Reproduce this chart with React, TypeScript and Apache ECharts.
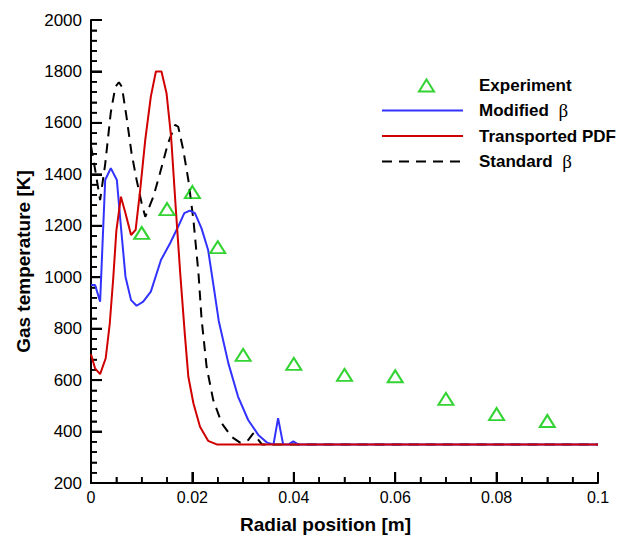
import React, { useEffect, useRef } from "react";
import * as echarts from "echarts";

// Experimental data
const expX = [0.01, 0.015, 0.02, 0.025, 0.03, 0.04, 0.05, 0.06, 0.07, 0.08, 0.09];
const expY = [1172, 1265, 1331, 1117, 698, 663, 620, 615, 527, 468, 441];

// Modified beta
const modX = [0, 0.0008, 0.0018, 0.0028, 0.0039, 0.0051, 0.0059, 0.0068, 0.0079, 0.009, 0.0103, 0.0118, 0.0138, 0.0156, 0.0172, 0.0184, 0.0195, 0.0205, 0.0218, 0.0231, 0.0241, 0.0252, 0.0271, 0.029, 0.031, 0.033, 0.0347, 0.036, 0.0369, 0.0379, 0.039, 0.0399, 0.0408, 0.1];
const modY = [970, 970, 905, 1378, 1424, 1378, 1197, 1002, 911, 889, 905, 944, 1067, 1132, 1197, 1249, 1259, 1249, 1190, 1106, 976, 830, 665, 536, 445, 387, 357, 350, 452, 350, 350, 362, 350, 350];

// Transported PDF
const pdfX = [0, 0.0008, 0.0018, 0.0029, 0.0037, 0.0044, 0.005, 0.0059, 0.0068, 0.0079, 0.0088, 0.0097, 0.0107, 0.0118, 0.0128, 0.0139, 0.0149, 0.0158, 0.0167, 0.0176, 0.0185, 0.0192, 0.0202, 0.0215, 0.0231, 0.0248, 0.1];
const pdfY = [700, 646, 623, 685, 820, 1000, 1180, 1313, 1249, 1164, 1184, 1339, 1534, 1702, 1800, 1800, 1715, 1546, 1274, 1015, 780, 613, 510, 419, 364, 350, 350];

// Standard beta
const stdX = [0, 0.0008, 0.0018, 0.0028, 0.0039, 0.0048, 0.0055, 0.0061, 0.007, 0.008, 0.009, 0.01, 0.0107, 0.0123, 0.0136, 0.0152, 0.0166, 0.0172, 0.0182, 0.0192, 0.0202, 0.0212, 0.0218, 0.0228, 0.0241, 0.0258, 0.0277, 0.0294, 0.031, 0.032, 0.0337, 0.1];
const stdY = [1510, 1420, 1300, 1440, 1640, 1740, 1758, 1740, 1624, 1482, 1378, 1287, 1235, 1313, 1404, 1521, 1592, 1585, 1495, 1378, 1223, 1015, 840, 652, 523, 432, 380, 357, 367, 393, 350, 350];

const seriesNames = ["Experiment", "Modified β", "Transported PDF", "Standard β"];

// Axis settings
const X_MIN = 0, X_MAX = 0.1, X_MAJOR = 0.02, X_MINOR = 0.005;
const Y_MIN = 200, Y_MAX = 2000, Y_MAJOR = 200, Y_MINOR = 40;

const pairs = (xs: number[], ys: number[]) => xs.map((x, i) => [x, ys[i]]);

const FONT = '"Liberation Sans", Arial, sans-serif';

const legendRich = {
  b: { fontFamily: FONT, fontWeight: "bold", fontSize: 17, color: "#000" },
  g: { fontFamily: '"Liberation Serif", serif', fontWeight: "normal", fontSize: 19, color: "#000" },
};
const legendFormatter = (name: string) => {
  if (name.endsWith("β")) {
    return "{b|" + name.slice(0, -2) + "}{g|  β}";
  }
  return "{b|" + name + "}";
};

export default function App() {
  const ref = useRef<HTMLDivElement>(null);
  useEffect(() => {
    if (!ref.current) return;
    const chart = echarts.init(ref.current, undefined, { renderer: "svg" });
    chart.setOption({
      animation: false,
      grid: { left: 91, right: 23, top: 20, bottom: 56 },
      legend: [
        {
          data: [seriesNames[0]],
          orient: "vertical",
          left: 418,
          top: 77,
          padding: 0,
          itemWidth: 15,
          itemHeight: 12,
          symbolKeepAspect: false,
          formatter: legendFormatter,
          textStyle: { padding: [0, 0, 0, 40], rich: legendRich },
        },
        {
          data: seriesNames.slice(1).map((n) => ({ name: n, itemStyle: { opacity: 0 } })),
          orient: "vertical",
          left: 381,
          top: 101,
          padding: 0,
          itemWidth: 81,
          itemHeight: 14,
          itemGap: 7.5,
          formatter: legendFormatter,
          textStyle: { padding: [0, 0, 0, 11], rich: legendRich },
        },
      ],
      xAxis: {
        type: "value",
        min: X_MIN,
        max: X_MAX,
        interval: X_MAJOR,
        name: "Radial position [m]",
        nameLocation: "middle",
        nameGap: 32,
        nameTextStyle: {
          fontFamily: FONT,
          fontWeight: "bold",
          fontSize: 19,
          color: "#000",
          padding: [0, 38, 0, 0],
        },
        axisLine: { show: true, onZero: false, lineStyle: { color: "#000", width: 2 } },
        axisTick: { show: true, inside: true, length: 11, lineStyle: { color: "#000", width: 2 } },
        minorTick: { show: true, splitNumber: 4, length: 6, lineStyle: { color: "#000", width: 1.5 } },
        splitLine: { show: true, lineStyle: { color: "rgba(0,0,0,0)" } },
        axisLabel: {
          margin: 6,
          fontSize: 16,
          color: "#000",
          fontFamily: FONT,
          formatter: (v: number) => String(+v.toFixed(2)),
        },
      },
      yAxis: {
        type: "value",
        min: Y_MIN,
        max: Y_MAX,
        interval: Y_MAJOR,
        name: "Gas temperature [K]",
        nameLocation: "middle",
        nameGap: 56,
        nameTextStyle: {
          fontFamily: FONT,
          fontWeight: "bold",
          fontSize: 19,
          color: "#000",
          padding: [0, 20, 0, 0],
        },
        axisLine: { show: true, onZero: false, lineStyle: { color: "#000", width: 2 } },
        axisTick: { show: true, inside: true, length: 11, lineStyle: { color: "#000", width: 2 } },
        minorTick: { show: true, splitNumber: 5, length: 6, lineStyle: { color: "#000", width: 1.5 } },
        splitLine: { show: true, lineStyle: { color: "rgba(0,0,0,0)" } },
        axisLabel: {
          margin: 9,
          fontSize: 17,
          color: "#000",
          fontFamily: FONT,
          formatter: (v: number) => String(v),
        },
      },
      series: [
        {
          name: seriesNames[0],
          type: "scatter",
          data: pairs(expX, expY),
          symbol: "triangle",
          symbolSize: [15, 12],
          itemStyle: { color: "rgba(255,255,255,0)", borderColor: "#00c800", borderWidth: 2 },
          z: 5,
        },
        {
          name: seriesNames[1],
          type: "line",
          data: pairs(modX, modY),
          symbol: "none",
          lineStyle: { color: "#3232ff", width: 2 },
          itemStyle: { color: "#3232ff" },
          z: 3,
        },
        {
          name: seriesNames[2],
          type: "line",
          data: pairs(pdfX, pdfY),
          symbol: "none",
          lineStyle: { color: "#d00000", width: 2 },
          itemStyle: { color: "#d00000" },
          z: 4,
        },
        {
          name: seriesNames[3],
          type: "line",
          data: pairs(stdX, stdY),
          symbol: "none",
          lineStyle: { color: "#000", width: 2, type: [10, 7] },
          itemStyle: { color: "#000" },
          z: 2,
        },
      ],
    });

    // Backup inward ticks, positioned through the chart's own axis scales
    try {
      const ticks: any[] = [];
      const nx = Math.round((X_MAX - X_MIN) / X_MINOR);
      const kx = Math.round(X_MAJOR / X_MINOR);
      for (let i = 0; i <= nx; i++) {
        const v = X_MIN + i * X_MINOR;
        const major = i % kx === 0;
        const p = chart.convertToPixel({ gridIndex: 0 }, [v, Y_MIN]) as number[];
        ticks.push({
          type: "line",
          shape: { x1: p[0], y1: p[1], x2: p[0], y2: p[1] - (major ? 11 : 6) },
          style: { stroke: "#000", lineWidth: major ? 2 : 1.5 },
        });
      }
      const ny = Math.round((Y_MAX - Y_MIN) / Y_MINOR);
      const ky = Math.round(Y_MAJOR / Y_MINOR);
      for (let i = 0; i <= ny; i++) {
        const v = Y_MIN + i * Y_MINOR;
        const major = i % ky === 0;
        const p = chart.convertToPixel({ gridIndex: 0 }, [X_MIN, v]) as number[];
        ticks.push({
          type: "line",
          shape: { x1: p[0], y1: p[1], x2: p[0] + (major ? 11 : 6), y2: p[1] },
          style: { stroke: "#000", lineWidth: major ? 2 : 1.5 },
        });
      }
      chart.setOption({ graphic: ticks });
    } catch (e) {
      // ignore
    }

    return () => chart.dispose();
  }, []);
  return (
    <div
      ref={ref}
      style={{ position: "fixed", left: 0, top: 0, width: 621, height: 539, background: "#fff" }}
    />
  );
}
